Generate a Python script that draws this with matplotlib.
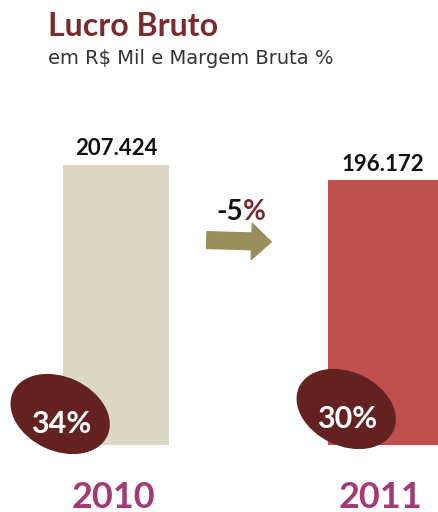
import matplotlib.pyplot as plt
import matplotlib.transforms as mtransforms
from matplotlib.patches import Ellipse

# lucro bruto (R$ mil) e margem bruta
anos = ['2010', '2011']
lucro = [207.424, 196.172]
margem = ['34%', '30%']
variacao = '-5'

cor_barras = ['#ddd8c3', '#c0504d']
cor_elipse = '#632120'
cor_ano = '#a33a73'

# deslocamento (px) da elipse em relacao ao canto inferior esquerdo da barra
desloc_elipse = [(-3, 31), (18, 36)]

plt.rcParams['font.family'] = ['Lato', 'DejaVu Sans']

fig = plt.figure(figsize=(4.38, 5.12), dpi=100)
H = 512
ax = fig.add_axes([0, 1 - 445 / H, 1, 0.75])
ax.set_xlim(-0.434, 1.206)
ax.set_ylim(0, 207.424 * 384 / 280)
ax.axis('off')

x = list(range(len(anos)))
larg = [0.395, 0.41]
ax.bar(x, lucro, width=larg, color=cor_barras, zorder=1)

px = mtransforms.IdentityTransform()
for i, v in enumerate(lucro):
    # valor acima da barra
    ax.annotate(f'{v:.3f}', (x[i], v), xytext=(0, 4), textcoords='offset points',
                ha='center', va='bottom', fontsize=16, fontweight='bold', color='#111111')
    # elipse com a margem no canto inferior esquerdo da barra
    bx, by = ax.transData.transform((x[i] - larg[i] / 2, 0))
    cx, cy = bx + desloc_elipse[i][0], by + desloc_elipse[i][1]
    el = Ellipse((cx, cy), 104, 74, angle=-25, transform=px, facecolor=cor_elipse,
                 edgecolor='none', zorder=3)
    fig.add_artist(el)
    fig.text(cx + 1, cy - 10, margem[i], transform=px, ha='center', va='center',
             fontsize=22, fontweight='bold', color='white', zorder=4)
    # ano abaixo
    fig.text(bx + (ax.transData.transform((x[i] + larg[i] / 2, 0))[0] - bx) / 2 - 2, 15,
             anos[i], transform=px, ha='center', va='center',
             fontsize=26, fontweight='bold', color=cor_ano)

# seta de variacao
ax.annotate('', xy=(274, H - 242), xytext=(204, H - 240), xycoords='figure pixels',
            textcoords='figure pixels',
            arrowprops=dict(arrowstyle='simple,head_length=0.7,head_width=1.3,tail_width=0.6',
                            color='#9a8f5c', mutation_scale=20))
fig.text(243, H - 212, variacao, transform=px, ha='right', va='center',
         fontsize=20, fontweight='bold', color='#111111')
fig.text(243, H - 212, '%', transform=px, ha='left', va='center',
         fontsize=20, fontweight='bold', color='#7a2a2a')

fig.text(48, H - 26, 'Lucro Bruto', transform=px, ha='left', va='center',
         fontsize=23, fontweight='bold', color='#7a2b2b')
fig.text(48, H - 58, 'em R$ Mil e Margem Bruta %', transform=px, ha='left', va='center',
         fontsize=14, color='#333333', family=['DejaVu Sans'])

fig.savefig('out.png', dpi=100)
